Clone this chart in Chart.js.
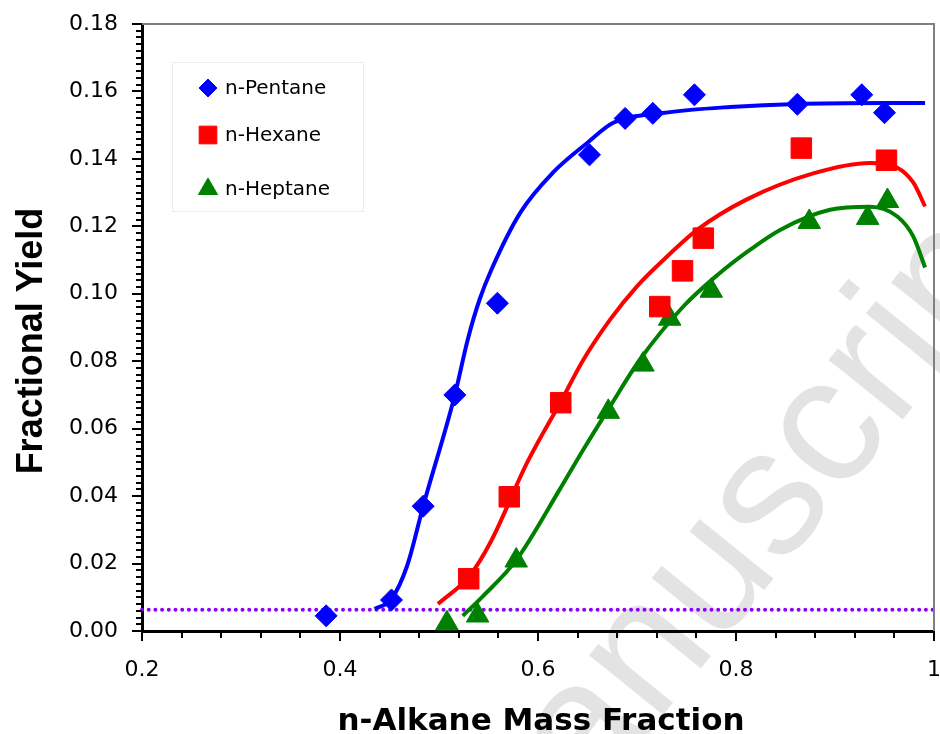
<!DOCTYPE html>
<html>
<head>
<meta charset="utf-8">
<script src="https://cdn.jsdelivr.net/npm/chart.js@4.4.0/dist/chart.umd.min.js"></script>
<style>
  html, body { margin: 0; padding: 0; background: #fff; }
  canvas { display: block; }
</style>
</head>
<body>
<canvas id="yieldChart" width="940" height="734"></canvas>
<script>
// measured yields
var pentaneX = [0.386, 0.452, 0.484, 0.516, 0.559, 0.652, 0.688, 0.716, 0.758, 0.862, 0.927, 0.950];
var pentaneY = [0.0045, 0.0092, 0.0370, 0.0700, 0.0972, 0.1412, 0.1520, 0.1535, 0.1590, 0.1562, 0.1590, 0.1537];

var hexaneX = [0.530, 0.571, 0.623, 0.723, 0.746, 0.767, 0.866, 0.952];
var hexaneY = [0.0155, 0.0398, 0.0677, 0.0962, 0.1068, 0.1165, 0.1432, 0.1396];

var heptaneX = [0.508, 0.539, 0.578, 0.671, 0.706, 0.733, 0.775, 0.874, 0.933, 0.953];
var heptaneY = [0.0023, 0.0046, 0.0209, 0.0650, 0.0790, 0.0926, 0.1009, 0.1213, 0.1225, 0.1275];

// fitted curves
var pentaneFitX = [0.435, 0.452, 0.468, 0.484, 0.516, 0.529, 0.541, 0.553, 0.582, 0.615, 0.650, 0.676, 0.726, 0.794, 0.862, 0.991];
var pentaneFitY = [0.0065, 0.0095, 0.0195, 0.0370, 0.0700, 0.0864, 0.0983, 0.1072, 0.1240, 0.1359, 0.1448, 0.1507, 0.1536, 0.1554, 0.1563, 0.1566];

var hexaneFitX = [0.499, 0.531, 0.552, 0.589, 0.623, 0.646, 0.673, 0.700, 0.727, 0.761, 0.811, 0.878, 0.935, 0.963, 0.979, 0.991];
var hexaneFitY = [0.0080, 0.0164, 0.0263, 0.0499, 0.0680, 0.0805, 0.0924, 0.1022, 0.1101, 0.1190, 0.1280, 0.1357, 0.1388, 0.1374, 0.1330, 0.1259];

var heptaneFitX = [0.524, 0.545, 0.578, 0.622, 0.646, 0.673, 0.703, 0.747, 0.781, 0.814, 0.845, 0.895, 0.935, 0.963, 0.979, 0.991];
var heptaneFitY = [0.0045, 0.0105, 0.0210, 0.0420, 0.0539, 0.0667, 0.0805, 0.0963, 0.1055, 0.1130, 0.1190, 0.1249, 0.1258, 0.1229, 0.1170, 0.1078];

// detection limit
var limitX = [0.2, 1.0];
var limitY = [0.0063, 0.0063];

var xTicks = [0.2, 0.4, 0.6, 0.8, 1.0];
var yTicks = [0, 0.02, 0.04, 0.06, 0.08, 0.10, 0.12, 0.14, 0.16, 0.18];

function toPoints(xs, ys) {
  return xs.map(function (x, i) { return { x: x, y: ys[i] }; });
}

var BLUE = '#0000ff', RED = '#ff0000', GREEN = '#008000', PURPLE = '#8b00ff';

var tickFont = '"DejaVu Sans", sans-serif';

// keep label overhang from shrinking the plot area
function noOverhang(s) {
  s.paddingTop = 0;
  s.paddingBottom = 0;
  s.paddingLeft = 0;
  s.paddingRight = 0;
}

// faint watermark behind everything
var watermark = {
  id: 'watermark',
  beforeDatasetsDraw(chart) {
    var ctx = chart.ctx;
    ctx.save();
    ctx.translate(498, 919);
    ctx.rotate(-51 * Math.PI / 180);
    ctx.font = '180px "Liberation Sans", Arial, sans-serif';
    ctx.fillStyle = 'rgba(0,0,0,0.11)';
    ctx.textAlign = 'left';
    ctx.textBaseline = 'alphabetic';
    ctx.fillText('Manuscript', 0, 0);
    ctx.restore();
  }
};

// frame, minor ticks, titles, legend
var decorations = {
  id: 'decorations',
  afterDraw(chart) {
    var ctx = chart.ctx;
    var a = chart.chartArea;
    var xs = chart.scales.x, ys = chart.scales.y;
    ctx.save();

    // top and right frame
    ctx.strokeStyle = '#808080';
    ctx.lineWidth = 2;
    ctx.beginPath();
    ctx.moveTo(a.left, a.top);
    ctx.lineTo(a.right, a.top);
    ctx.lineTo(a.right, a.bottom);
    ctx.stroke();

    // tick marks
    ctx.strokeStyle = '#000';
    ctx.lineWidth = 2;
    ctx.beginPath();
    for (var i = 0; i <= 90; i++) {
      var py = Math.round(ys.getPixelForValue(i * 0.002));
      var len = (i % 10 === 0) ? 10 : 6;
      ctx.moveTo(a.left - len, py);
      ctx.lineTo(a.left, py);
    }
    for (var j = 0; j <= 20; j++) {
      var px = Math.round(xs.getPixelForValue(0.2 + j * 0.04));
      var l2 = (j % 5 === 0) ? 10 : 7;
      ctx.moveTo(px, a.bottom);
      ctx.lineTo(px, a.bottom + l2);
    }
    ctx.stroke();

    // axis titles
    ctx.fillStyle = '#000';
    ctx.textAlign = 'center';
    ctx.textBaseline = 'alphabetic';
    ctx.font = 'bold 31px "DejaVu Sans", sans-serif';
    ctx.fillText('n-Alkane Mass Fraction', 541, 730);

    ctx.save();
    ctx.translate(42, 341);
    ctx.rotate(-Math.PI / 2);
    ctx.font = 'bold 36px "Liberation Sans", Arial, sans-serif';
    ctx.fillText('Fractional Yield', 0, 0);
    ctx.restore();

    // legend box
    ctx.strokeStyle = '#ececec';
    ctx.lineWidth = 1;
    ctx.strokeRect(172.5, 62.5, 191, 149);

    var items = chart.data.datasets.filter(function (d) { return d.legendY; });
    ctx.font = '20px "DejaVu Sans", sans-serif';
    ctx.textAlign = 'left';
    ctx.textBaseline = 'middle';
    items.forEach(function (d) {
      ctx.fillStyle = d.pointBackgroundColor;
      ctx.strokeStyle = d.pointBackgroundColor;
      ctx.lineWidth = 1;
      Chart.helpers.drawPoint(ctx, {
        pointStyle: d.pointStyle,
        radius: d.legendRadius,
        rotation: 0,
        borderWidth: 1
      }, 208, d.legendY);
      ctx.fillStyle = '#000';
      ctx.fillText(d.label, 225, d.legendY + 1);
    });

    ctx.restore();
  }
};

function fitLine(label, xs, ys, color) {
  return {
    label: label,
    data: toPoints(xs, ys),
    showLine: true,
    borderColor: color,
    borderWidth: 4,
    pointRadius: 0,
    cubicInterpolationMode: 'monotone',
    order: 1
  };
}

new Chart(document.getElementById('yieldChart'), {
  type: 'scatter',
  data: {
    datasets: [
      {
        label: 'n-Pentane',
        data: toPoints(pentaneX, pentaneY),
        pointStyle: 'rectRot',
        pointRadius: 11,
        pointBackgroundColor: BLUE,
        pointBorderColor: BLUE,
        pointBorderWidth: 1,
        legendY: 88,
        legendRadius: 9,
        order: 0
      },
      {
        label: 'n-Hexane',
        data: toPoints(hexaneX, hexaneY),
        pointStyle: 'rect',
        pointRadius: 14.5,
        pointBackgroundColor: RED,
        pointBorderColor: RED,
        pointBorderWidth: 1,
        legendY: 135,
        legendRadius: 12.5,
        order: 0
      },
      {
        label: 'n-Heptane',
        data: toPoints(heptaneX, heptaneY),
        pointStyle: 'triangle',
        pointRadius: 13,
        pointBackgroundColor: GREEN,
        pointBorderColor: GREEN,
        pointBorderWidth: 1,
        legendY: 189,
        legendRadius: 11,
        order: 0
      },
      fitLine('pentane fit', pentaneFitX, pentaneFitY, BLUE),
      fitLine('hexane fit', hexaneFitX, hexaneFitY, RED),
      fitLine('heptane fit', heptaneFitX, heptaneFitY, GREEN),
      {
        label: 'limit',
        data: toPoints(limitX, limitY),
        showLine: true,
        borderColor: PURPLE,
        borderWidth: 4,
        borderDash: [0, 6.7],
        borderCapStyle: 'round',
        pointRadius: 0,
        order: 2
      }
    ]
  },
  options: {
    responsive: false,
    animation: false,
    events: [],
    clip: false,
    layout: { autoPadding: false, padding: { top: 24, right: 6, left: 0, bottom: 0 } },
    plugins: {
      legend: { display: false },
      tooltip: { enabled: false }
    },
    scales: {
      x: {
        type: 'linear',
        min: 0.2,
        max: 1,
        afterFit: function (s) { s.height = 103; noOverhang(s); },
        afterBuildTicks: function (s) { s.ticks = xTicks.map(function (v) { return { value: v }; }); },
        grid: { display: true, drawOnChartArea: false, drawTicks: false },
        border: { display: true, color: '#000', width: 3 },
        ticks: {
          padding: 26,
          color: '#000',
          font: { family: tickFont, size: 22 },
          maxRotation: 0,
          callback: function (v) { return String(Number(v.toFixed(1))); }
        }
      },
      y: {
        type: 'linear',
        min: 0,
        max: 0.18,
        afterFit: function (s) { s.width = 142; noOverhang(s); },
        afterBuildTicks: function (s) { s.ticks = yTicks.map(function (v) { return { value: v }; }); },
        grid: { display: true, drawOnChartArea: false, drawTicks: false },
        border: { display: true, color: '#000', width: 3 },
        ticks: {
          padding: 24,
          color: '#000',
          font: { family: tickFont, size: 22 },
          callback: function (v) { return v.toFixed(2); }
        }
      }
    }
  },
  plugins: [watermark, decorations]
});
</script>
</body>
</html>
